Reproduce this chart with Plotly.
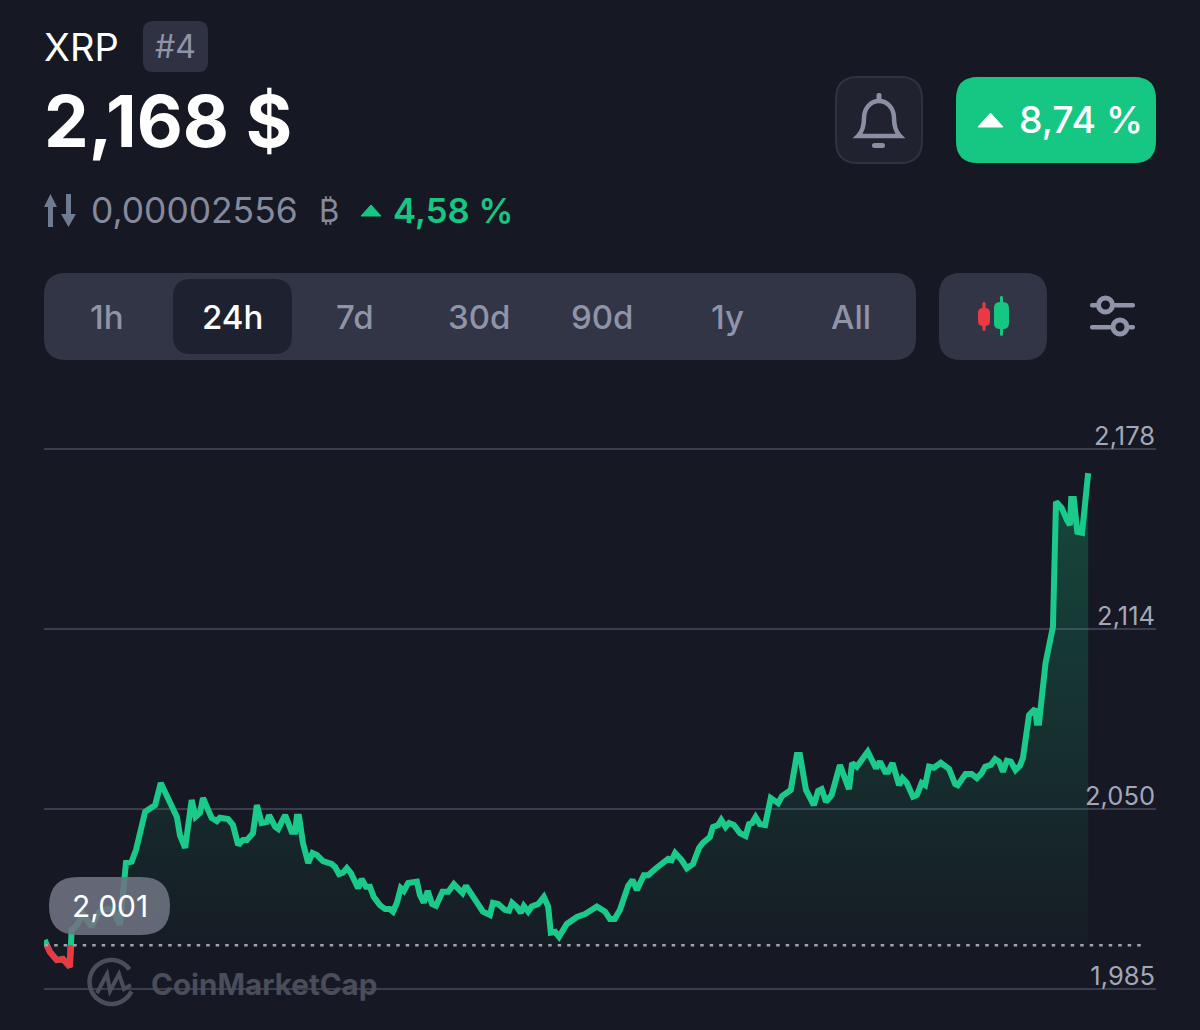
import numpy as np
import plotly.graph_objects as go

# XRP 24h price, hours since start of the window
hours = [0.00, 0.05, 0.12, 0.28, 0.42, 0.58, 0.60, 0.62, 0.74, 0.88, 1.08, 1.23, 1.43, 1.57, 1.73, 1.87, 2.00, 2.10, 2.31, 2.54,
         2.67, 2.84, 3.04, 3.11, 3.23, 3.38, 3.47, 3.57, 3.64, 3.84, 3.96, 4.03, 4.22, 4.33, 4.45, 4.56, 4.65, 4.79, 4.88, 4.99,
         5.11, 5.16, 5.30, 5.37, 5.53, 5.68, 5.76, 5.80, 5.85, 5.94, 6.06, 6.16, 6.26, 6.40, 6.60, 6.68, 6.77, 6.86, 6.95, 7.04,
         7.16, 7.21, 7.29, 7.39, 7.48, 7.57, 7.71, 7.83, 7.94, 8.01, 8.10, 8.19, 8.26, 8.36, 8.56, 8.63, 8.72, 8.81, 8.91, 9.00,
         9.15, 9.28, 9.41, 9.61, 9.69, 9.80, 9.90, 10.08, 10.24, 10.31, 10.43, 10.59, 10.68, 10.75, 10.86, 10.95, 11.02, 11.12, 11.20, 11.35,
         11.48, 11.58, 11.64, 11.74, 11.83, 12.01, 12.24, 12.43, 12.70, 12.89, 13.00, 13.11, 13.23, 13.42, 13.52, 13.62, 13.78, 13.88, 14.04, 14.22,
         14.34, 14.42, 14.50, 14.65, 14.77, 14.91, 15.05, 15.14, 15.30, 15.37, 15.49, 15.56, 15.66, 15.74, 15.85, 15.99, 16.12, 16.20, 16.27, 16.35,
         16.45, 16.57, 16.70, 16.87, 16.96, 17.16, 17.30, 17.37, 17.51, 17.69, 17.79, 17.87, 17.97, 18.10, 18.29, 18.50, 18.57, 18.68, 18.93, 19.12,
         19.21, 19.33, 19.40, 19.50, 19.65, 19.73, 19.83, 19.97, 20.06, 20.17, 20.25, 20.34, 20.45, 20.61, 20.80, 20.94, 21.00, 21.18, 21.32, 21.44,
         21.55, 21.63, 21.76, 21.86, 21.95, 22.04, 22.13, 22.22, 22.33, 22.43, 22.50, 22.64, 22.78, 22.82, 22.87, 23.02, 23.19, 23.26, 23.39, 23.51,
         23.58, 23.61, 23.67, 23.75, 23.86, 24.00]
prices = [2.0029, 2.0007, 1.9986, 1.9957, 1.9961, 1.9933, 2.0018, 2.0064, 2.0082, 2.0121, 2.0076, 2.0125, 2.0139, 2.0136, 2.0082, 2.0304, 2.0308, 2.0350, 2.0486, 2.0510,
          2.0589, 2.0535, 2.0468, 2.0403, 2.0357, 2.0528, 2.0468, 2.0482, 2.0535, 2.0464, 2.0453, 2.0465, 2.0460, 2.0439, 2.0368, 2.0385, 2.0385, 2.0410, 2.0510, 2.0446,
          2.0450, 2.0474, 2.0433, 2.0425, 2.0474, 2.0415, 2.0415, 2.0468, 2.0468, 2.0375, 2.0303, 2.0339, 2.0332, 2.0310, 2.0300, 2.0289, 2.0264, 2.0269, 2.0285, 2.0268,
          2.0228, 2.0214, 2.0246, 2.0219, 2.0219, 2.0182, 2.0153, 2.0139, 2.0139, 2.0130, 2.0161, 2.0214, 2.0204, 2.0232, 2.0237, 2.0189, 2.0162, 2.0204, 2.0157, 2.0151,
          2.0201, 2.0201, 2.0228, 2.0196, 2.0222, 2.0196, 2.0178, 2.0130, 2.0118, 2.0161, 2.0157, 2.0136, 2.0133, 2.0161, 2.0146, 2.0126, 2.0150, 2.0130, 2.0148, 2.0157,
          2.0182, 2.0148, 2.0055, 2.0058, 2.0040, 2.0086, 2.0111, 2.0121, 2.0148, 2.0130, 2.0104, 2.0104, 2.0136, 2.0222, 2.0243, 2.0207, 2.0260, 2.0260, 2.0282, 2.0300,
          2.0318, 2.0314, 2.0339, 2.0314, 2.0285, 2.0300, 2.0357, 2.0375, 2.0396, 2.0432, 2.0439, 2.0457, 2.0432, 2.0446, 2.0439, 2.0410, 2.0400, 2.0442, 2.0446, 2.0467,
          2.0442, 2.0439, 2.0535, 2.0517, 2.0542, 2.0564, 2.0689, 2.0689, 2.0564, 2.0510, 2.0561, 2.0567, 2.0522, 2.0546, 2.0653, 2.0567, 2.0660, 2.0647, 2.0700, 2.0642,
          2.0665, 2.0629, 2.0629, 2.0660, 2.0581, 2.0606, 2.0589, 2.0540, 2.0546, 2.0589, 2.0581, 2.0647, 2.0643, 2.0661, 2.0639, 2.0585, 2.0581, 2.0621, 2.0621, 2.0606,
          2.0624, 2.0647, 2.0653, 2.0674, 2.0665, 2.0629, 2.0668, 2.0665, 2.0635, 2.0650, 2.0678, 2.0831, 2.0853, 2.0804, 2.0804, 2.1017, 2.1146, 2.1592, 2.1570, 2.1527,
          2.1509, 2.1602, 2.1602, 2.1485, 2.1481, 2.1694]

# stretch below the opening price, drawn red
red_hours = [0.04, 0.12, 0.28, 0.42, 0.58, 0.59]
red_prices = [2.001, 1.9986, 1.9957, 1.9961, 1.9933, 2.001]

open_price = 2.001
tick_vals = [2.178, 2.1138, 2.0496, 1.9854]
tabs = ["1h", "24h", "7d", "30d", "90d", "1y", "All"]

BG = "#161923"
GREEN = "#16c784"
RED = "#ea3943"
PANEL = "#323546"
GREY = "#8f94a9"
FONT = "Inter"


def fx(x):
    return x / 1200


def fy(y):
    return 1 - y / 1030


def pt(x, y):
    return f"{fx(x):.5f},{fy(y):.5f}"


def rrect(x0, y0, x1, y1, r, fill, line=None, lw=0):
    path = (f"M{pt(x0 + r, y0)} L{pt(x1 - r, y0)} Q{pt(x1, y0)} {pt(x1, y0 + r)} "
            f"L{pt(x1, y1 - r)} Q{pt(x1, y1)} {pt(x1 - r, y1)} "
            f"L{pt(x0 + r, y1)} Q{pt(x0, y1)} {pt(x0, y1 - r)} "
            f"L{pt(x0, y0 + r)} Q{pt(x0, y0)} {pt(x0 + r, y0)} Z")
    return dict(type="path", xref="paper", yref="paper", path=path, fillcolor=fill,
                line=dict(color=line or fill, width=lw))


def poly(points, fill=None, line=None, lw=0, close=True):
    path = "M" + " L".join(pt(x, y) for x, y in points) + (" Z" if close else "")
    return dict(type="path", xref="paper", yref="paper", path=path,
                fillcolor=fill or "rgba(0,0,0,0)", line=dict(color=line or "rgba(0,0,0,0)", width=lw))


def ring(cx, cy, r, fill, line, lw):
    return dict(type="circle", xref="paper", yref="paper", x0=fx(cx - r), x1=fx(cx + r),
                y0=fy(cy + r), y1=fy(cy - r), fillcolor=fill, line=dict(color=line, width=lw))


def label(x, y, text, size, color, weight=400, anchor="left"):
    return dict(xref="paper", yref="paper", x=fx(x), y=fy(y), text=text, showarrow=False,
                xanchor=anchor, yanchor="middle", borderpad=0,
                font=dict(family=FONT, size=size, color=color, weight=weight))


fig = go.Figure()

# invisible base so the gradient stops at the opening price
fig.add_trace(go.Scatter(x=hours, y=[open_price] * len(hours), mode="lines", line=dict(width=0), showlegend=False))
fig.add_trace(go.Scatter(x=hours, y=prices, mode="lines", fill="tonexty", line=dict(color="#1bc98a", width=6),
                         fillgradient=dict(type="vertical", start=open_price, stop=max(prices),
                                           colorscale=[[0, "rgba(22,199,132,0.02)"], [1, "rgba(22,199,132,0.27)"]]),
                         showlegend=False))
fig.add_trace(go.Scatter(x=red_hours, y=red_prices, mode="lines", line=dict(color=RED, width=6), showlegend=False))

shapes = []
# dotted opening price
shapes.append(dict(type="line", xref="x", yref="y", x0=0, x1=25.27, y0=open_price, y1=open_price,
                   line=dict(color="#a0a3b0", width=2.5, dash="3.5px,6px")))

# header
shapes.append(rrect(143, 21, 208, 72, 10, "#2f3242"))
shapes.append(rrect(836, 77, 922, 163, 22, "#20222f", "#2f3240", 2))
shapes.append(rrect(956, 77, 1156, 163, 22, GREEN))
shapes.append(poly([(978, 127), (990.5, 113), (1003, 127)], fill="#ffffff", line="#ffffff", lw=1))
shapes.append(poly([(361, 216), (371, 205), (381, 216)], fill=GREEN, line=GREEN, lw=1))

# up and down arrows
ARROW = "#6f7b90"
shapes.append(poly([(44, 207), (50.5, 194), (57, 207), (53, 207), (53, 227), (48, 227), (48, 207)], fill=ARROW))
shapes.append(poly([(66, 194), (71, 194), (71, 214), (76, 214), (68.5, 227), (61, 214), (66, 214)], fill=ARROW))

# bell
BELL = "#8b8fa3"
bell = (f"M{pt(858, 136)} Q{pt(864, 130)} {pt(864, 118)} C{pt(864, 108)} {pt(871, 101)} {pt(879, 101)} "
        f"C{pt(887, 101)} {pt(894, 108)} {pt(894, 118)} Q{pt(894, 130)} {pt(900, 136)} Z")
shapes.append(dict(type="path", xref="paper", yref="paper", path=bell, line=dict(color=BELL, width=4.5),
                   fillcolor="rgba(0,0,0,0)"))
shapes.append(rrect(876.5, 93, 881.5, 102, 2, BELL))
shapes.append(rrect(872, 143, 885, 148, 2.5, BELL))

# period tabs
shapes.append(rrect(44, 273, 916, 360, 22, PANEL))
shapes.append(rrect(173, 279, 292, 354, 18, "#1e2130"))

# candle toggle
shapes.append(rrect(939, 273, 1047, 360, 22, PANEL))
shapes.append(rrect(982.5, 302, 985.5, 331, 1.5, RED))
shapes.append(rrect(978, 308, 990, 326, 5, RED))
shapes.append(rrect(1000, 296, 1003, 336, 1.5, GREEN))
shapes.append(rrect(994, 302, 1009, 329, 6, GREEN))

# settings sliders
shapes.append(rrect(1090, 303, 1100, 307.5, 2, GREY))
shapes.append(rrect(1113, 303, 1135, 307.5, 2, GREY))
shapes.append(ring(1105.5, 305, 7, "rgba(0,0,0,0)", GREY, 5))
shapes.append(rrect(1090, 325, 1112, 329.5, 2, GREY))
shapes.append(rrect(1128, 325, 1135, 329.5, 2, GREY))
shapes.append(ring(1120, 327, 7, "rgba(0,0,0,0)", GREY, 5))

# watermark logo
MARK = "#4a4d5a"
angles = np.radians(np.arange(35, 345, 10))
arc = [(111.5 + 22 * np.cos(a), 982 - 22 * np.sin(a)) for a in angles]
shapes.append(poly(arc, line=MARK, lw=4.5, close=False))
shapes.append(poly([(97, 993), (107, 974), (110, 991), (119, 974), (124, 989), (131, 985)], line=MARK, lw=4, close=False))

# price pill over the line
shapes.append(rrect(49, 877, 170, 935, 29, "rgba(112,115,130,0.88)"))

annotations = [
    label(43, 47, "XRP", 38, "#ffffff"),
    label(175.5, 46, "#4", 32, GREY, anchor="center"),
    label(43, 121, "2,168 $", 71, "#ffffff", 700),
    label(90, 210, "0,00002556", 35.4, "#858a9e"),
    label(329, 210, "₿", 31, "#858a9e", anchor="center"),
    label(392, 210, "4,58 %", 34.7, GREEN, 600),
    label(1018, 120, "8,74 %", 37.4, "#ffffff", 500),
    label(109.5, 906, "2,001", 30, "#ffffff", anchor="center"),
    label(150, 984, "CoinMarketCap", 29.6, MARK, 700),
]
tab_x = [107, 232, 355, 479, 603, 727, 851]
for tab, x in zip(tabs, tab_x):
    annotations.append(label(x, 317, tab, 33, "#ffffff" if tab == "24h" else GREY, 500, anchor="center"))

fig.update_layout(
    width=1200,
    height=1030,
    autosize=False,
    margin=dict(l=0, r=0, t=0, b=0),
    paper_bgcolor=BG,
    plot_bgcolor=BG,
    separators=",.",
    hovermode=False,
    showlegend=False,
    shapes=shapes,
    annotations=annotations,
    xaxis=dict(domain=[44 / 1200, 1156 / 1200], range=[-0.016, 25.56], visible=False),
    yaxis=dict(domain=[20 / 1030, 630 / 1030], range=[1.9779, 2.1955], side="right",
               tickmode="array", tickvals=tick_vals, tickformat=".3f",
               ticklabelposition="inside", ticklabelshift=-13, ticklabelstandoff=-2, ticks="",
               tickfont=dict(family=FONT, size=25.5, color="#a3a7b8"),
               showgrid=True, gridcolor="#3a3d4d", gridwidth=2, zeroline=False, showline=False),
)

fig.write_html("out.html", config=dict(displayModeBar=False),
               post_script=f"document.body.style.margin='0';document.body.style.background='{BG}';")
